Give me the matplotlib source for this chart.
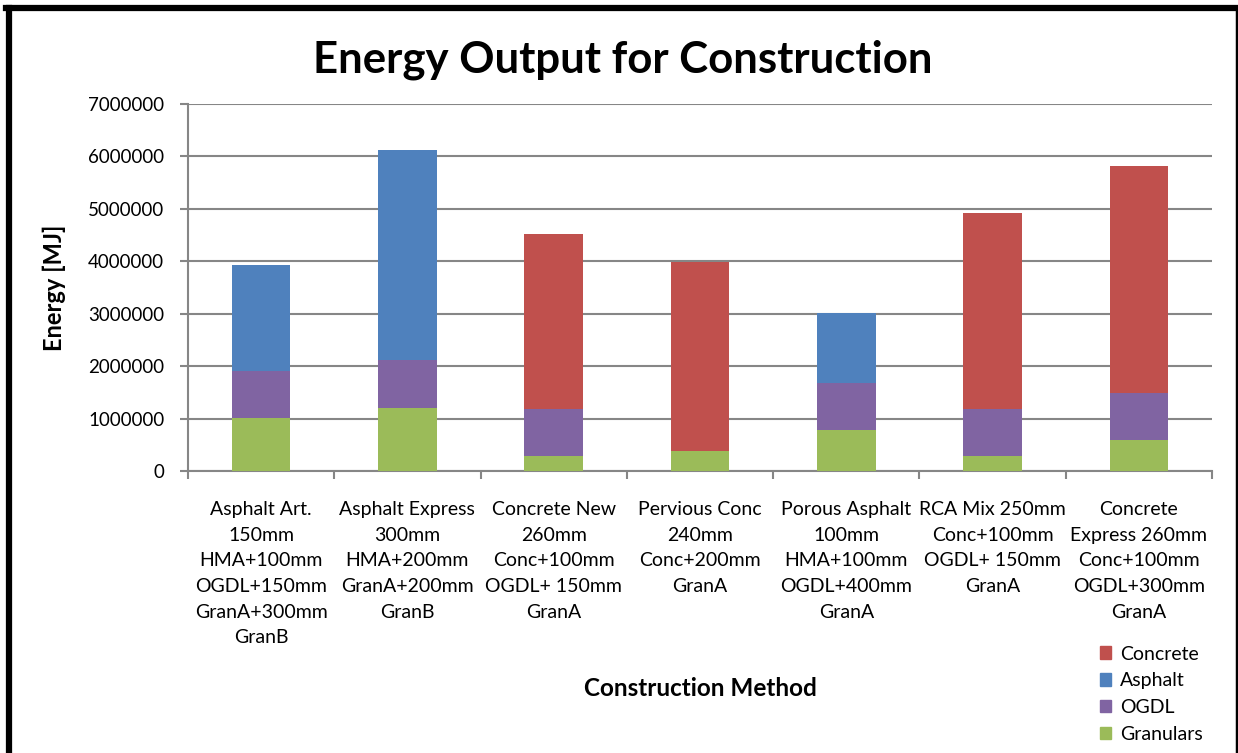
import matplotlib.pyplot as plt
import numpy as np
from matplotlib.patches import Patch
from matplotlib.lines import Line2D

plt.rcParams['font.family'] = ['Lato', 'DejaVu Sans']

# 공법별 에너지 데이터 (MJ)
methods = [
    "Asphalt Art.\n150mm\nHMA+100mm\nOGDL+150mm\nGranA+300mm\nGranB",
    "Asphalt Express\n300mm\nHMA+200mm\nGranA+200mm\nGranB",
    "Concrete New\n260mm\nConc+100mm\nOGDL+ 150mm\nGranA",
    "Pervious Conc\n240mm\nConc+200mm\nGranA",
    "Porous Asphalt\n100mm\nHMA+100mm\nOGDL+400mm\nGranA",
    "RCA Mix 250mm\nConc+100mm\nOGDL+ 150mm\nGranA",
    "Concrete\nExpress 260mm\nConc+100mm\nOGDL+300mm\nGranA",
]
granulars = [1010000, 1210000, 290000, 380000, 780000, 290000, 590000]
ogdl = [900000, 900000, 890000, 0, 900000, 890000, 890000]
asphalt = [2020000, 4010000, 0, 0, 1340000, 0, 0]
concrete = [0, 0, 3340000, 3600000, 0, 3750000, 4330000]

c_gran = "#9BBB59"
c_ogdl = "#8064A2"
c_asph = "#4F81BD"
c_conc = "#C0504D"
grid_c = "#868686"

fig = plt.figure(figsize=(12.38, 7.53), dpi=100)
ax = fig.add_axes([188 / 1238, 1 - 471 / 753, 1024 / 1238, 367 / 753])

x = np.arange(len(methods))
w = 0.4
bottom = np.zeros(len(methods))
for vals, col in [(granulars, c_gran), (ogdl, c_ogdl), (asphalt, c_asph), (concrete, c_conc)]:
    ax.bar(x, vals, w, bottom=bottom, color=col, zorder=3)
    bottom = bottom + np.array(vals)

ax.set_xlim(-0.5, len(methods) - 0.5)
ax.set_ylim(0, 7000000)
yt = np.arange(0, 7000001, 1000000)
ax.set_yticks(yt)
ax.set_yticklabels([str(v) for v in yt], fontsize=13.5)
ax.yaxis.grid(True, color=grid_c, linewidth=1.5, zorder=0)

ax.set_xticks(x)
ax.set_xticklabels(methods, fontsize=14, linespacing=1.62)
ax.tick_params(axis='x', length=0, pad=21.5)
ax.set_xticks(np.arange(-0.5, len(methods), 1), minor=True)
ax.tick_params(axis='x', which='minor', length=6, color=grid_c, width=1.5)
ax.tick_params(axis='y', length=6, color=grid_c, width=1.5, pad=11)

for s in ['top', 'right']:
    ax.spines[s].set_visible(False)
for s in ['left', 'bottom']:
    ax.spines[s].set_color(grid_c)
    ax.spines[s].set_linewidth(1.5)

fig.text(54 / 1238, 1 - 288 / 753, "Energy [MJ]", fontsize=17, fontweight='bold',
         rotation=90, ha='center', va='center')
fig.text(700 / 1238, 1 - 688 / 753, "Construction Method", fontsize=17.5,
         fontweight='bold', ha='center', va='center')
fig.text(623 / 1238, 1 - 60 / 753, "Energy Output for Construction", fontsize=31.5,
         fontweight='bold', ha='center', va='center')

handles = [Patch(color=c_conc, label="Concrete"), Patch(color=c_asph, label="Asphalt"),
           Patch(color=c_ogdl, label="OGDL"), Patch(color=c_gran, label="Granulars")]
fig.legend(handles=handles, loc='upper left', bbox_to_anchor=(1082 / 1238, 1 - 628 / 753),
           frameon=False, fontsize=14, handlelength=0.6, handleheight=0.6,
           handletextpad=0.45, labelspacing=0.5)

# 차트 테두리
fig.add_artist(Line2D([9 / 1238, 9 / 1238], [0, 1 - 8 / 753], color='black', linewidth=4.5,
                      transform=fig.transFigure))
fig.add_artist(Line2D([6 / 1238, 1238 / 1238], [1 - 8 / 753, 1 - 8 / 753], color='black',
                      linewidth=4.5, transform=fig.transFigure))
fig.add_artist(Line2D([1237 / 1238, 1237 / 1238], [0, 1 - 8 / 753], color='black',
                      linewidth=2.5, transform=fig.transFigure))

fig.savefig("out.png", dpi=100)
